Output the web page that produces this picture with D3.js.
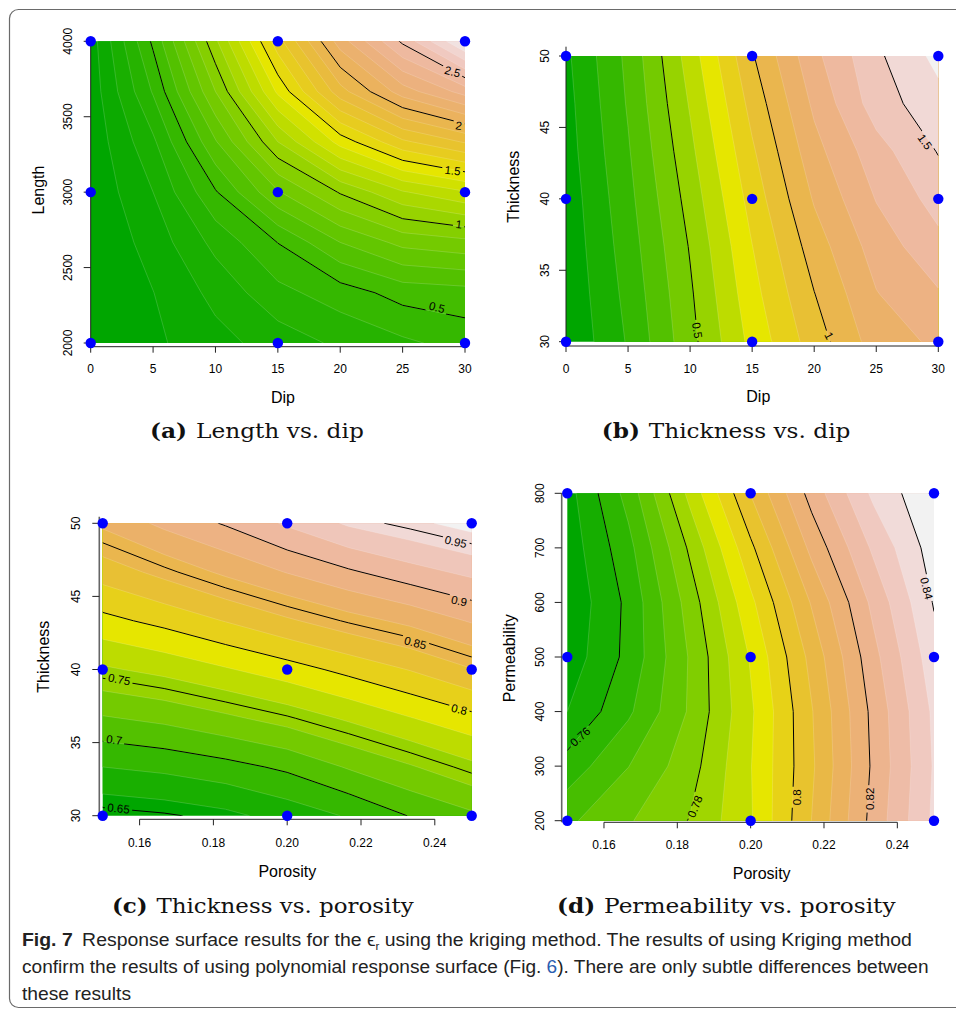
<!DOCTYPE html>
<html>
<head>
<meta charset="utf-8">
<title>Response surface results (kriging)</title>
<script src="https://cdn.jsdelivr.net/npm/d3@7/dist/d3.min.js"></script>
<style>
  body { margin: 0; background: #fff; }
  svg { display: block; }
  .tick-label, .axis-title, .clabel { font-family: "Liberation Sans", Arial, Helvetica, sans-serif; fill: #000; }
  .sub-caption { font-family: "DejaVu Serif", "Liberation Serif", serif; fill: #111; }
  .fig-caption { font-family: "Liberation Sans", Arial, sans-serif; fill: #222; }
</style>
</head>
<body>
<svg id="figure" width="956" height="1012"></svg>
<script>
// Grid axes of the kriging predictions (7 x 7 in every panel)
const dipGrid = [0, 5, 10, 15, 20, 25, 30];
const lengthGrid = [2000, 2333.3, 2666.7, 3000, 3333.3, 3666.7, 4000];
const thicknessGrid = [30, 33.33, 36.67, 40, 43.33, 46.67, 50];
const porosityGrid = [0.15, 0.1667, 0.1833, 0.2, 0.2167, 0.2333, 0.25];
const permeabilityGrid = [200, 300, 400, 500, 600, 700, 800];

// Predicted eps_r: one row per y grid value (lowest first), one column per x grid value
const epsLengthDip = [
  [0.000, 0.080, 0.165, 0.245, 0.320, 0.380, 0.440],
  [0.005, 0.098, 0.230, 0.370, 0.450, 0.540, 0.560],
  [0.010, 0.140, 0.330, 0.502, 0.700, 0.830, 0.870],
  [0.020, 0.200, 0.490, 0.790, 1.010, 1.190, 1.290],
  [0.030, 0.280, 0.690, 1.100, 1.440, 1.680, 1.810],
  [0.040, 0.410, 0.900, 1.420, 1.860, 2.150, 2.340],
  [0.050, 0.520, 1.080, 1.660, 2.150, 2.520, 2.920]
];
const epsThicknessDip = [
  [0.010, 0.210, 0.467, 0.731, 0.950, 1.147, 1.220],
  [0.020, 0.230, 0.485, 0.765, 0.997, 1.195, 1.290],
  [0.030, 0.250, 0.508, 0.798, 1.050, 1.245, 1.370],
  [0.040, 0.270, 0.540, 0.840, 1.110, 1.305, 1.440],
  [0.055, 0.290, 0.575, 0.885, 1.165, 1.360, 1.506],
  [0.065, 0.310, 0.610, 0.935, 1.220, 1.450, 1.565],
  [0.080, 0.325, 0.647, 0.990, 1.274, 1.480, 1.630]
];
const epsThicknessPorosity = [
  [0.644, 0.648, 0.655, 0.668, 0.682, 0.701, 0.716],
  [0.680, 0.685, 0.693, 0.704, 0.722, 0.738, 0.755],
  [0.718, 0.725, 0.736, 0.748, 0.763, 0.779, 0.794],
  [0.757, 0.766, 0.778, 0.791, 0.806, 0.821, 0.839],
  [0.794, 0.806, 0.821, 0.837, 0.852, 0.865, 0.882],
  [0.829, 0.846, 0.864, 0.881, 0.897, 0.912, 0.925],
  [0.864, 0.885, 0.902, 0.923, 0.943, 0.955, 0.968]
];
const epsPermeabilityPorosity = [
  [0.7690, 0.7745, 0.7802, 0.7895, 0.8051, 0.8217, 0.8360],
  [0.7620, 0.7699, 0.7778, 0.7898, 0.8042, 0.8208, 0.8355],
  [0.7550, 0.7641, 0.7756, 0.7892, 0.8047, 0.8213, 0.8360],
  [0.7520, 0.7614, 0.7754, 0.7905, 0.8066, 0.8233, 0.8380],
  [0.7510, 0.7612, 0.7772, 0.7938, 0.8105, 0.8262, 0.8404],
  [0.7520, 0.7634, 0.7808, 0.7989, 0.8164, 0.8308, 0.8425],
  [0.7530, 0.7669, 0.7864, 0.8052, 0.8220, 0.8360, 0.8445]
];

// Design points (3-level factorial)
const designDip = [0, 15, 30];
const designLength = [2000, 3000, 4000];
const designThickness = [30, 40, 50];
const designPorosity = [0.15, 0.20, 0.25];
const designPermeability = [200, 500, 800];

// Axis ticks
const dipTicks = [0, 5, 10, 15, 20, 25, 30];
const lengthTicks = [2000, 2500, 3000, 3500, 4000];
const thicknessTicks = [30, 35, 40, 45, 50];
const porosityTicks = [0.16, 0.18, 0.20, 0.22, 0.24];
const permeabilityTicks = [200, 300, 400, 500, 600, 700, 800];

// Filled-contour breaks and labelled contour lines
const fillLevelsA = d3.range(31).map(i => +(i * 0.1).toFixed(3));
const fillLevelsB = d3.range(18).map(i => +(i * 0.1).toFixed(3));
const fillLevelsC = d3.range(18).map(i => +(0.64 + i * 0.02).toFixed(3));
const fillLevelsD = d3.range(20).map(i => +(0.75 + i * 0.005).toFixed(4));
const lineLevelsA = [0.5, 1, 1.5, 2, 2.5];
const lineLevelsB = [0.5, 1, 1.5];
const lineLevelsC = [0.65, 0.7, 0.75, 0.8, 0.85, 0.9, 0.95];
const lineLevelsD = [0.76, 0.78, 0.8, 0.82, 0.84];

const svg = d3.select("#figure");
const defs = svg.append("defs");

svg.append("rect").attr("width", 956).attr("height", 1012).attr("fill", "#fff");
svg.append("rect")
    .attr("x", 9.5).attr("y", 9.5)
    .attr("width", 1000).attr("height", 998)
    .attr("rx", 9)
    .attr("fill", "none")
    .attr("stroke", "#6a6a6a")
    .attr("stroke-width", 1.2);

// R's terrain.colors(n)
function hsv(h, s, v) {
    const i = Math.floor(h * 6 + 1e-9), f = h * 6 - i;
    const p = v * (1 - s), q = v * (1 - f * s), t = v * (1 - (1 - f) * s);
    let r, g, b;
    switch (((i % 6) + 6) % 6) {
        case 0: r = v; g = t; b = p; break;
        case 1: r = q; g = v; b = p; break;
        case 2: r = p; g = v; b = t; break;
        case 3: r = p; g = q; b = v; break;
        case 4: r = t; g = p; b = v; break;
        default: r = v; g = p; b = q;
    }
    return d3.rgb(r * 255, g * 255, b * 255).formatHex();
}

function terrainColors(n) {
    const k = Math.floor(n / 2);
    const h = [4 / 12, 2 / 12, 0], s = [1, 1, 0], v = [0.65, 0.9, 0.95];
    const out = [];
    for (let i = 0; i < k; i++) {
        const t = k > 1 ? i / (k - 1) : 0;
        out.push(hsv(h[0] + (h[1] - h[0]) * t, s[0] + (s[1] - s[0]) * t, v[0] + (v[1] - v[0]) * t));
    }
    for (let j = 1; j <= n - k; j++) {
        const t = j / (n - k);
        out.push(hsv(h[1] + (h[2] - h[1]) * t, s[1] + (s[2] - s[1]) * t, v[1] + (v[2] - v[1]) * t));
    }
    return out;
}

const panels = [
    {
        id: "a", xGrid: dipGrid, yGrid: lengthGrid, z: epsLengthDip,
        levels: fillLevelsA, lineLevels: lineLevelsA,
        designX: designDip, designY: designLength,
        xTicks: dipTicks, yTicks: lengthTicks, xFormat: d3.format("d"),
        xTitle: "Dip", yTitle: "Length", tag: "(a)", caption: "Length vs. dip",
        left: 90.7, right: 465, top: 41.3, bottom: 343,
        axisY: 346.7, axisX: 90.7, yExt: 0, yColor: "#222", xLabelY: 369, yLabelX: 68,
        xTitlePos: [283, 397], yTitlePos: [38, 190],
        capPos: [252.5, 438], capWidth: 205,
        labels: [
            { text: "0.5", x: 27.75, y: 2237, angle: 14 },
            { text: "1", x: 29.5, y: 2787, angle: 6 },
            { text: "1.5", x: 29.0, y: 3143, angle: 6 },
            { text: "2", x: 29.5, y: 3441, angle: 8 },
            { text: "2.5", x: 29.0, y: 3799, angle: 15 }
        ]
    },
    {
        id: "b", xGrid: dipGrid, yGrid: thicknessGrid, z: epsThicknessDip,
        levels: fillLevelsB, lineLevels: lineLevelsB,
        designX: designDip, designY: designThickness,
        xTicks: dipTicks, yTicks: thicknessTicks, xFormat: d3.format("d"),
        xTitle: "Dip", yTitle: "Thickness", tag: "(b)", caption: "Thickness vs. dip",
        left: 566, right: 938.3, top: 56, bottom: 341.7,
        axisY: 346, axisX: 566, yExt: 9.3, yColor: "#222", xLabelY: 369, yLabelX: 545,
        xTitlePos: [758.3, 396.7], yTitlePos: [513, 186.7],
        capPos: [721.7, 438], capWidth: 240,
        labels: [
            { text: "0.5", x: 10.58, y: 30.8, angle: 82 },
            { text: "1", x: 21.2, y: 30.42, angle: 62 },
            { text: "1.5", x: 28.93, y: 44.0, angle: 54 }
        ]
    },
    {
        id: "c", xGrid: porosityGrid, yGrid: thicknessGrid, z: epsThicknessPorosity,
        levels: fillLevelsC, lineLevels: lineLevelsC,
        designX: designPorosity, designY: designThickness,
        xTicks: porosityTicks, yTicks: thicknessTicks, xFormat: d3.format(".2f"),
        xTitle: "Porosity", yTitle: "Thickness", tag: "(c)", caption: "Thickness vs. porosity",
        left: 102.7, right: 471.7, top: 523.3, bottom: 815.7,
        axisY: 819.3, axisX: 99.3, yExt: 6.6, yColor: "#666", xLabelY: 842.7, yLabelX: 76,
        xTitlePos: [287.3, 871.7], yTitlePos: [43.3, 656.7],
        capPos: [258.5, 913], capWidth: 293,
        labels: [
            { text: "0.65", x: 0.1543, y: 30.5, angle: 6 },
            { text: "0.7", x: 0.1531, y: 35.2, angle: 8 },
            { text: "0.75", x: 0.1545, y: 39.33, angle: 11 },
            { text: "0.8", x: 0.2466, y: 37.28, angle: 13 },
            { text: "0.85", x: 0.2347, y: 41.83, angle: 14 },
            { text: "0.9", x: 0.2466, y: 44.7, angle: 12 },
            { text: "0.95", x: 0.2457, y: 48.74, angle: 13 }
        ]
    },
    {
        id: "d", xGrid: porosityGrid, yGrid: permeabilityGrid, z: epsPermeabilityPorosity,
        levels: fillLevelsD, lineLevels: lineLevelsD,
        designX: designPorosity, designY: designPermeability,
        xTicks: porosityTicks, yTicks: permeabilityTicks, xFormat: d3.format(".2f"),
        xTitle: "Porosity", yTitle: "Permeability", tag: "(d)", caption: "Permeability vs. porosity",
        left: 567.3, right: 934, top: 493.3, bottom: 820.7,
        axisY: 822.3, axisX: 561.7, yExt: 0, yColor: "#666", xLabelY: 845, yLabelX: 540,
        xTitlePos: [761.7, 873.3], yTitlePos: [509.3, 658.3],
        capPos: [722, 913], capWidth: 330,
        labels: [
            { text: "0.76", x: 0.1535, y: 354, angle: -42 },
            { text: "0.78", x: 0.1848, y: 226, angle: -68 },
            { text: "0.8", x: 0.2126, y: 243, angle: -90 },
            { text: "0.82", x: 0.2324, y: 240, angle: -90 },
            { text: "0.84", x: 0.2480, y: 626, angle: 76 }
        ]
    }
];

const labelSize = 11.5;
function labelWidth(d) {
    const dots = (d.text.match(/\./g) || []).length;
    return (d.text.length - dots) * labelSize * 0.556 + dots * labelSize * 0.278 + 5;
}

function fitText(sel, target, left, y) {
    const w = sel.node().getComputedTextLength();
    const s = target / w;
    sel.attr("transform", `translate(${left},${y}) scale(${s},1)`);
    return s;
}

function drawPanel(p) {
    const g = svg.append("g").attr("class", "panel-" + p.id);
    const nx = p.xGrid.length, ny = p.yGrid.length;
    const x0 = p.xGrid[0], x1 = p.xGrid[nx - 1];
    const y0 = p.yGrid[0], y1 = p.yGrid[ny - 1];
    const x = d3.scaleLinear().domain([x0, x1]).range([p.left, p.right]);
    const y = d3.scaleLinear().domain([y0, y1]).range([p.bottom, p.top]);
    const stepX = (x1 - x0) / (nx - 1), stepY = (y1 - y0) / (ny - 1);

    // contour grid units (sample i sits at i + 0.5) -> pixels
    const gridToPx = d3.geoTransform({
        point(cx, cy) {
            this.stream.point(x(x0 + (cx - 0.5) * stepX), y(y0 + (cy - 0.5) * stepY));
        }
    });
    const path = d3.geoPath(gridToPx);
    const values = p.z.flat();
    const colors = terrainColors(p.levels.length - 1);

    defs.append("clipPath").attr("id", "clip-" + p.id)
        .append("rect")
        .attr("x", p.left).attr("y", p.top)
        .attr("width", p.right - p.left).attr("height", p.bottom - p.top);

    // filled bands
    const bands = d3.contours().size([nx, ny]).thresholds(p.levels.slice(0, -1))(values);
    g.append("g")
        .attr("clip-path", `url(#clip-${p.id})`)
        .selectAll("path")
        .data(bands)
        .join("path")
        .attr("d", path)
        .attr("fill", (d, i) => colors[i])
        .attr("stroke", "rgba(255,255,255,0.28)")
        .attr("stroke-width", 0.6);

    // gaps in the contour lines where labels sit
    const mask = defs.append("mask").attr("id", "mask-" + p.id)
        .attr("maskUnits", "userSpaceOnUse")
        .attr("x", 0).attr("y", 0).attr("width", 956).attr("height", 1012);
    mask.append("rect").attr("width", 956).attr("height", 1012).attr("fill", "#fff");
    mask.selectAll("rect.gap")
        .data(p.labels)
        .join("rect")
        .attr("class", "gap")
        .attr("x", d => -labelWidth(d) / 2)
        .attr("y", -6)
        .attr("width", labelWidth)
        .attr("height", 12)
        .attr("fill", "#000")
        .attr("transform", d => `translate(${x(d.x)},${y(d.y)}) rotate(${d.angle})`);

    const isolines = d3.contours().size([nx, ny]).thresholds(p.lineLevels)(values);
    g.append("g")
        .attr("clip-path", `url(#clip-${p.id})`)
        .append("g")
        .attr("mask", `url(#mask-${p.id})`)
        .selectAll("path")
        .data(isolines)
        .join("path")
        .attr("d", path)
        .attr("fill", "none")
        .attr("stroke", "#000")
        .attr("stroke-width", 1);

    g.selectAll("text.clabel")
        .data(p.labels)
        .join("text")
        .attr("class", "clabel")
        .attr("transform", d => `translate(${x(d.x)},${y(d.y)}) rotate(${d.angle})`)
        .attr("text-anchor", "middle")
        .attr("dy", "0.36em")
        .attr("font-size", labelSize)
        .text(d => d.text);

    // axes, R style: line from first to last tick
    const xt = p.xTicks;
    const xAxis = g.append("g").attr("stroke", "#222").attr("stroke-width", 1);
    xAxis.append("line")
        .attr("x1", x(xt[0])).attr("x2", x(xt[xt.length - 1]))
        .attr("y1", p.axisY).attr("y2", p.axisY);
    xAxis.selectAll("line.xtick")
        .data(xt)
        .join("line")
        .attr("class", "xtick")
        .attr("x1", d => x(d)).attr("x2", d => x(d))
        .attr("y1", p.axisY).attr("y2", p.axisY + 6);

    const yt = p.yTicks;
    const yAxis = g.append("g").attr("stroke", "#222").attr("stroke-width", 1);
    yAxis.append("line")
        .attr("stroke", p.yColor)
        .attr("stroke-width", p.yColor === "#222" ? 1 : 1.6)
        .attr("x1", p.axisX).attr("x2", p.axisX)
        .attr("y1", y(yt[yt.length - 1]) - p.yExt).attr("y2", p.axisY);
    yAxis.selectAll("line.ytick")
        .data(yt)
        .join("line")
        .attr("class", "ytick")
        .attr("x1", p.axisX - 7).attr("x2", p.axisX)
        .attr("y1", d => y(d)).attr("y2", d => y(d));

    g.selectAll("text.xlab")
        .data(xt)
        .join("text")
        .attr("class", "tick-label xlab")
        .attr("x", d => x(d)).attr("y", p.xLabelY)
        .attr("dy", "0.35em")
        .attr("text-anchor", "middle")
        .attr("font-size", 12)
        .text(p.xFormat);

    g.selectAll("text.ylab")
        .data(yt)
        .join("text")
        .attr("class", "tick-label ylab")
        .attr("transform", d => `translate(${p.yLabelX},${y(d)}) rotate(-90)`)
        .attr("dy", "0.35em")
        .attr("text-anchor", "middle")
        .attr("font-size", 12)
        .text(d => d);

    g.append("text")
        .attr("class", "axis-title")
        .attr("x", p.xTitlePos[0]).attr("y", p.xTitlePos[1])
        .attr("dy", "0.35em")
        .attr("text-anchor", "middle")
        .attr("font-size", 16)
        .text(p.xTitle);

    g.append("text")
        .attr("class", "axis-title")
        .attr("transform", `translate(${p.yTitlePos[0]},${p.yTitlePos[1]}) rotate(-90)`)
        .attr("dy", "0.35em")
        .attr("text-anchor", "middle")
        .attr("font-size", 16)
        .text(p.yTitle);

    // design points
    g.selectAll("circle")
        .data(d3.cross(p.designX, p.designY))
        .join("circle")
        .attr("cx", d => x(d[0]))
        .attr("cy", d => y(d[1]))
        .attr("r", 5.2)
        .attr("fill", "#0000ff");

    // sub-figure caption
    const cap = g.append("text")
        .attr("class", "sub-caption")
        .attr("font-size", 21)
        .attr("x", 0).attr("y", 0);
    cap.append("tspan").attr("font-weight", "bold").text(p.tag);
    cap.append("tspan").attr("dx", 8).text(p.caption);
    fitText(cap, p.capWidth, p.capPos[0] - p.capWidth / 2, p.capPos[1]);
}

panels.forEach(drawPanel);

// figure caption
const c1 = svg.append("text").attr("class", "fig-caption").attr("font-size", 18.5);
c1.append("tspan").attr("font-weight", "bold").text("Fig. 7");
c1.append("tspan").attr("dx", 9).text("Response surface results for the ");
c1.append("tspan").text("\u03F5");
c1.append("tspan").attr("font-size", 11).attr("dy", 4).text("r");
c1.append("tspan").attr("dy", -4).text(" using the kriging method. The results of using Kriging method");

const c2 = svg.append("text").attr("class", "fig-caption").attr("font-size", 18.5);
c2.append("tspan").text("confirm the results of using polynomial response surface (Fig. ");
c2.append("tspan").attr("fill", "#2a5db0").text("6");
c2.append("tspan").text("). There are only subtle differences between");

const c3 = svg.append("text").attr("class", "fig-caption").attr("font-size", 18.5);
c3.append("tspan").text("these results");

const s1 = fitText(c1, 881, 22, 946);
const s2 = fitText(c2, 907, 22, 973);
c3.attr("transform", `translate(22,1000) scale(${(s1 + s2) / 2},1)`);
</script>
</body>
</html>
